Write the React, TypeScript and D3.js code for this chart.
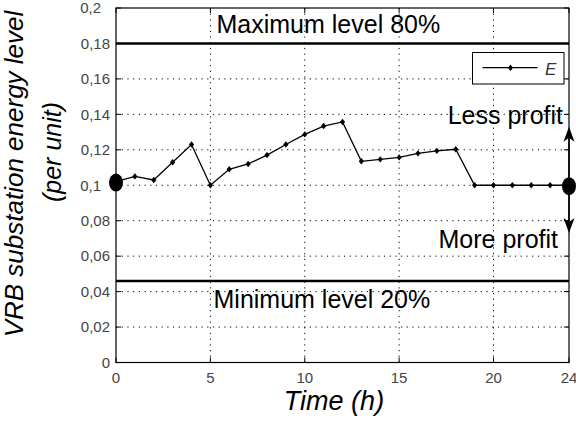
import React from "react";
import * as d3 from "d3";

const hours = [0, 1, 2, 3, 4, 5, 6, 7, 8, 9, 10, 11, 12, 13, 14, 15, 16, 17, 18, 19, 20, 21, 22, 23, 24];
const energy = [0.102, 0.105, 0.103, 0.113, 0.123, 0.1, 0.109, 0.112, 0.117, 0.123, 0.1287, 0.1334, 0.1357, 0.1135, 0.1146, 0.1157, 0.118, 0.1194, 0.1203, 0.1, 0.1, 0.1, 0.1, 0.1, 0.1];
const endpointHours = [0, 24];
const endpointValues = [0.1015, 0.0995];
const xTicks = [0, 5, 10, 15, 20, 24];
const yTicks = [0, 0.02, 0.04, 0.06, 0.08, 0.1, 0.12, 0.14, 0.16, 0.18, 0.2];
const yTickLabels = ["0", "0,02", "0,04", "0,06", "0,08", "0,1", "0,12", "0,14", "0,16", "0,18", "0,2"];
const maxLevel = 0.18;
const minLevel = 0.046;
const lessProfitTip = 0.133;
const moreProfitTip = 0.073;

const W = 576;
const H = 428;
const L = 116;
const R = 569;
const T = 8;
const B = 362.5;

const FONT = "'Liberation Sans', Arial, Helvetica, sans-serif";

export default function App() {
  const x = d3.scaleLinear().domain([0, 24]).range([L, R]);
  const y = d3.scaleLinear().domain([0, 0.2]).range([B, T]);
  const line = d3
    .line<number>()
    .x((_, i) => x(hours[i]))
    .y((d) => y(d));
  const tick = 5;
  const ax = x(24);
  const midY = y(0.1);

  return (
    <svg
      width={W}
      height={H}
      style={{ position: "absolute", left: 0, top: 0, background: "#fff" }}
      fontFamily={FONT}
    >
      <rect x={0} y={0} width={W} height={H} fill="#fff" />
      {/* grid */}
      {yTicks.slice(1, -1).map((t) => (
        <line key={"gy" + t} x1={L} x2={R} y1={y(t)} y2={y(t)} stroke="#000" strokeWidth={1} strokeDasharray="1.2,4.5" />
      ))}
      {xTicks.slice(1, -1).map((t) => (
        <line key={"gx" + t} x1={x(t)} x2={x(t)} y1={T} y2={B} stroke="#000" strokeWidth={1} strokeDasharray="1.2,4.5" />
      ))}
      {/* ticks */}
      {yTicks.map((t) => (
        <g key={"ty" + t}>
          <line x1={L} x2={L + tick} y1={y(t)} y2={y(t)} stroke="#000" />
          <line x1={R} x2={R - tick} y1={y(t)} y2={y(t)} stroke="#000" />
        </g>
      ))}
      {xTicks.map((t) => (
        <g key={"tx" + t}>
          <line x1={x(t)} x2={x(t)} y1={B} y2={B - tick} stroke="#000" />
          <line x1={x(t)} x2={x(t)} y1={T} y2={T + tick} stroke="#000" />
        </g>
      ))}
      {/* axes box */}
      <rect x={L} y={T} width={R - L} height={B - T} fill="none" stroke="#000" strokeWidth={1.2} />
      {/* level lines */}
      <line x1={L} x2={R} y1={y(maxLevel)} y2={y(maxLevel)} stroke="#000" strokeWidth={2.6} />
      <line x1={L} x2={R} y1={y(minLevel)} y2={y(minLevel)} stroke="#000" strokeWidth={2.6} />
      {/* data */}
      <path d={line(energy) || ""} fill="none" stroke="#000" strokeWidth={1.3} />
      {energy.map((v, i) => (
        <path
          key={"m" + i}
          d={`M${x(hours[i])},${y(v) - 3.2}L${x(hours[i]) + 2.6},${y(v)}L${x(hours[i])},${y(v) + 3.2}L${x(hours[i]) - 2.6},${y(v)}Z`}
          fill="#000"
        />
      ))}
      {endpointHours.map((h, i) => (
        <ellipse key={"e" + i} cx={x(h)} cy={y(endpointValues[i])} rx={7} ry={9} fill="#000" />
      ))}
      {/* arrows */}
      <line x1={ax} x2={ax} y1={midY} y2={y(lessProfitTip) + 4} stroke="#000" strokeWidth={1.6} />
      <path d={`M${ax},${y(lessProfitTip)}L${ax + 5.5},${y(lessProfitTip) + 15}L${ax},${y(lessProfitTip) + 11}L${ax - 5.5},${y(lessProfitTip) + 15}Z`} fill="#000" />
      <line x1={ax} x2={ax} y1={midY} y2={y(moreProfitTip) - 4} stroke="#000" strokeWidth={1.6} />
      <path d={`M${ax},${y(moreProfitTip)}L${ax + 5.5},${y(moreProfitTip) - 15}L${ax},${y(moreProfitTip) - 11}L${ax - 5.5},${y(moreProfitTip) - 15}Z`} fill="#000" />
      {/* annotations */}
      <text x={216.5} y={33} fontSize={25} fill="#000">Maximum level 80%</text>
      <text x={213.5} y={308} fontSize={25} fill="#000">Minimum level 20%</text>
      <text x={563} y={124} fontSize={25} fill="#000" textAnchor="end">Less profit</text>
      <text x={558} y={248} fontSize={25} fill="#000" textAnchor="end">More profit</text>
      {/* legend */}
      <rect x={472.5} y={52.5} width={91.5} height={31.5} fill="#fff" stroke="#000" strokeWidth={1} />
      <line x1={482.5} x2={537.5} y1={67.7} y2={67.7} stroke="#000" strokeWidth={1.2} />
      <path d="M510.5,64.5L513,67.7L510.5,70.9L508,67.7Z" fill="#000" />
      <text x={545} y={75} fontSize={17} fontStyle="italic" fill="#333">E</text>
      {/* tick labels */}
      {yTicks.map((t, i) => (
        <text
          key={"ly" + t}
          x={110 - (yTickLabels[i].length === 3 ? 9 : 0)}
          y={y(t)}
          dy="0.35em"
          fontSize={15}
          fill="#444"
          textAnchor="end"
        >
          {yTickLabels[i]}
        </text>
      ))}
      {xTicks.map((t) => (
        <text key={"lx" + t} x={x(t)} y={383} fontSize={15} fill="#444" textAnchor="middle">
          {t}
        </text>
      ))}
      {/* axis titles */}
      <text x={334} y={410} fontSize={27} fontStyle="italic" textAnchor="middle" fill="#000">Time (h)</text>
      <text transform={`translate(23,174) rotate(-90)`} fontSize={26} fontStyle="italic" textAnchor="middle" fill="#000">
        VRB substation energy level
      </text>
      <text transform={`translate(61,152) rotate(-90)`} fontSize={25} fontStyle="italic" textAnchor="middle" fill="#000">
        (per unit)
      </text>
    </svg>
  );
}
